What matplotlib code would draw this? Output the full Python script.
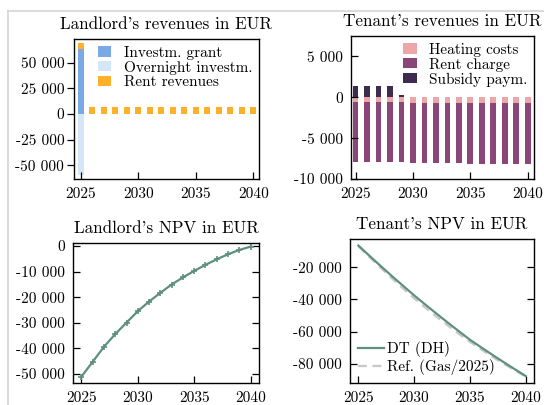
import matplotlib.pyplot as plt
from matplotlib.ticker import FuncFormatter
from matplotlib.lines import Line2D

plt.rcParams['font.family'] = ['cmr10', 'DejaVu Serif']
plt.rcParams['axes.unicode_minus'] = False
plt.rcParams['font.size'] = 11

years = list(range(2025, 2041))

# landlord revenues
invest_grant = [63000] + [0] * 15
overnight_invest = [-59500] + [0] * 15
rent_revenues = [6400] * 16

# tenant revenues
heating_costs = [-530] * 4 + [-600] + [-720] * 11
rent_charge = [-7370] * 4 + [-7300] + [-7310] * 5 + [-7400] * 6
subsidy_paym = [1320] * 4 + [250] + [0] * 11

# NPVs
landlord_npv = [-51000, -45200, -39350, -34400, -29900, -25450, -21700, -18300,
                -15060, -12300, -9740, -7400, -5200, -3250, -1560, -260]
tenant_npv = [-6600, -13000, -19300, -25500, -31500, -37500, -43200, -48800,
              -54300, -59700, -65000, -69700, -74300, -78800, -83200, -87500]
ref_npv = [-7000, -13800, -20400, -26900, -33200, -39300, -45100, -50700,
           -56100, -61300, -66300, -71000, -75500, -79800, -83900, -87800]

fmt = FuncFormatter(lambda v, p: f"{v:,.0f}".replace(",", " "))

W, H = 544, 405
fig = plt.figure(figsize=(W / 100, H / 100), dpi=100)

TITLE = 12.3
LEG = 11
TICK = 11


def px_axes(x0, y0, x1, y1):
    return fig.add_axes([x0 / W, 1 - y1 / H, (x1 - x0) / W, (y1 - y0) / H])


def style(ax):
    ax.yaxis.set_major_formatter(fmt)
    ax.set_xticks([2025, 2030, 2035, 2040])
    ax.tick_params(direction='in', length=5, width=0.9, labelsize=TICK, pad=6)
    for s in ax.spines.values():
        s.set_linewidth(1.0)


legkw = dict(frameon=False, fontsize=LEG, handlelength=0.9, handleheight=0.65,
             handletextpad=0.8, labelspacing=0.05, borderaxespad=0.05)

# --- landlord revenues
ax1 = px_axes(74, 39, 259, 179)
w = 0.5
ax1.bar(years, invest_grant, w, color='#7aa9e6', label='Investm. grant')
ax1.bar(years, overnight_invest, w, color='#d5e7f6', label='Overnight investm.')
base = [g if g > 0 else 0 for g in invest_grant]
ax1.bar(years, rent_revenues, w, bottom=base, color='#fdb12a', label='Rent revenues')
ax1.set_xlim(2024.42, 2040.5)
ax1.set_ylim(-63500, 73000)
ax1.set_yticks([-50000, -25000, 0, 25000, 50000])
ax1.set_title("Landlord's revenues in EUR", fontsize=TITLE, pad=7)
style(ax1)
ax1.tick_params(axis='y', direction='out', pad=2)
ax1.legend(loc='upper right', **legkw)

# --- tenant revenues
ax2 = px_axes(351, 36, 534, 179)
ax2.bar(years, heating_costs, w, color='#eca6a6', label='Heating costs')
ax2.bar(years, rent_charge, w, bottom=heating_costs, color='#8a4679', label='Rent charge')
ax2.bar(years, subsidy_paym, w, color='#3e2c4f', label='Subsidy paym.')
ax2.set_xlim(2024.6, 2040.55)
ax2.set_ylim(-10000, 7500)
ax2.set_yticks([-10000, -5000, 0, 5000])
ax2.set_title("Tenant's revenues in EUR", fontsize=TITLE, pad=7)
style(ax2)
ax2.legend(loc='upper right', **legkw)

# --- landlord NPV
ax3 = px_axes(73, 243, 259, 383)
ax3.plot(years, landlord_npv, color='#5e8f80', lw=1.6, marker='+', ms=5, mew=1.2)
ax3.set_ylim(-53500, 1150)
ax3.set_yticks([-50000, -40000, -30000, -20000, -10000, 0])
ax3.set_title("Landlord's NPV in EUR", fontsize=TITLE, pad=7)
style(ax3)
ax3.tick_params(axis='y', right=True)

# --- tenant NPV
ax4 = px_axes(350, 239, 534, 383)
ax4.plot(years, ref_npv, color='#c8c8c8', lw=1.6, ls='--', dashes=(4, 2.5),
         label='Ref. (Gas/2025)', zorder=2)
ax4.plot(years, tenant_npv, color='#5e8f80', lw=1.6, label='DT (DH)', zorder=3)
ax4.set_yticks([-80000, -60000, -40000, -20000])
ax4.set_title("Tenant's NPV in EUR", fontsize=TITLE, pad=7)
style(ax4)
ax4.tick_params(axis='y', right=True)
h, l = ax4.get_legend_handles_labels()
ax4.legend(h[::-1], l[::-1], loc='lower left', frameon=False, fontsize=LEG,
           handlelength=1.7, handletextpad=0.25, labelspacing=0.15,
           borderaxespad=0.1)

# light frame of the figure
fig.add_artist(Line2D([8 / W, 8 / W], [0, 1 - 11 / H], color='#d4d4d4', lw=1.2))
fig.add_artist(Line2D([8 / W, 1], [1 - 11 / H, 1 - 11 / H], color='#d4d4d4', lw=1.2))

fig.savefig('out.png', dpi=100)
